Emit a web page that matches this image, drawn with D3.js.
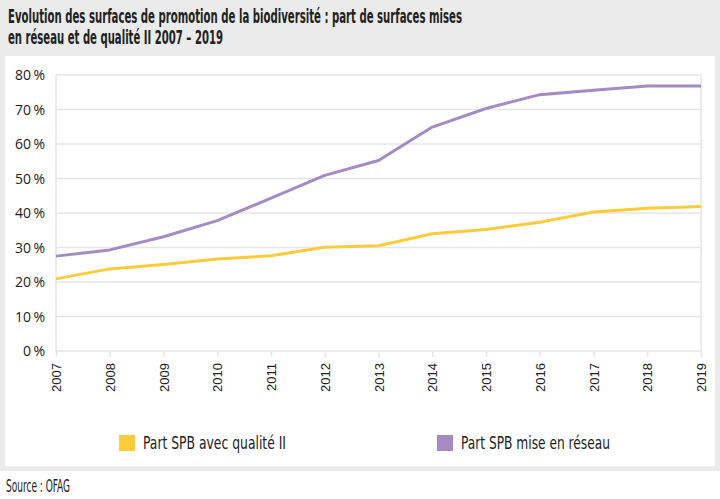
<!DOCTYPE html>
<html lang="fr">
<head>
<meta charset="UTF-8">
<title>Evolution des surfaces de promotion de la biodiversité</title>
<script src="https://d3js.org/d3.v7.min.js"></script>
<style>
  body { margin: 0; background: #fff; }
  svg { display: block; }
</style>
</head>
<body>
<svg width="720" height="499"></svg>
<script>
// data
const years = [2007, 2008, 2009, 2010, 2011, 2012, 2013, 2014, 2015, 2016, 2017, 2018, 2019];
const qualiteII = [20.9, 23.8, 25.1, 26.7, 27.6, 30.1, 30.5, 34.0, 35.2, 37.3, 40.3, 41.4, 41.9];
const miseEnReseau = [27.5, 29.3, 33.1, 37.8, 44.3, 50.9, 55.2, 64.9, 70.3, 74.3, 75.6, 76.8, 76.8];
const yTicks = [0, 10, 20, 30, 40, 50, 60, 70, 80];
const seriesNames = ["Part SPB avec qualité II", "Part SPB mise en réseau"];
const colors = ["#fecb3c", "#a58bc3"];
const titleLines = [
  "Evolution des surfaces de promotion de la biodiversité : part de surfaces mises",
  "en réseau et de qualité II 2007 – 2019"
];
const source = "Source : OFAG";

const svg = d3.select("svg");
const condensed = "'Liberation Sans Narrow', 'DejaVu Sans Condensed', sans-serif";

// grey frame + white panel
svg.append("rect").attr("x", 0).attr("y", 0).attr("width", 720).attr("height", 471).attr("fill", "#ebebeb");
svg.append("rect").attr("x", 5).attr("y", 56).attr("width", 710).attr("height", 410).attr("fill", "#fff");

// title
svg.selectAll(".title")
  .data(titleLines)
  .enter().append("text")
  .attr("class", "title")
  .attr("x", 8)
  .attr("y", (d, i) => 23 + i * 21)
  .attr("textLength", (d, i) => i === 0 ? 454 : 215)
  .attr("lengthAdjust", "spacingAndGlyphs")
  .style("font-family", condensed)
  .style("font-weight", "bold")
  .style("font-size", "19px")
  .attr("fill", "#222")
  .text(d => d);

const x = d3.scaleLinear().domain([2007, 2019]).range([56, 701]);
const y = d3.scaleLinear().domain([0, 80]).range([351, 75]);

// gridlines
svg.append("g")
  .selectAll("line")
  .data(yTicks)
  .enter().append("line")
  .attr("x1", x(2007)).attr("x2", x(2019))
  .attr("y1", d => y(d)).attr("y2", d => y(d))
  .attr("stroke", "#e6e6e6")
  .attr("stroke-width", 1.5);

// left/right borders of plot
svg.append("g")
  .selectAll("line")
  .data([2007, 2019])
  .enter().append("line")
  .attr("x1", d => x(d)).attr("x2", d => x(d))
  .attr("y1", y(80)).attr("y2", y(0))
  .attr("stroke", "#e6e6e6")
  .attr("stroke-width", 1.5);

// y axis labels
svg.append("g")
  .selectAll("text")
  .data(yTicks)
  .enter().append("text")
  .attr("x", 45)
  .attr("y", d => y(d) + 5)
  .attr("text-anchor", "end")
  .style("font-family", "'Open Sans', sans-serif")
  .style("font-size", "14px")
  .attr("fill", "#222")
  .text(d => d + "\u2009%");

// x axis
const xAxis = d3.axisBottom(x)
  .tickValues(years)
  .tickFormat(d3.format("d"))
  .tickSize(6)
  .tickPadding(6);

const gx = svg.append("g")
  .attr("transform", `translate(0,${y(0)})`)
  .call(xAxis);
gx.select(".domain").remove();
gx.selectAll(".tick line").attr("stroke", "#e6e6e6").attr("stroke-width", 1.5);
gx.selectAll(".tick text")
  .attr("transform", "rotate(-90)")
  .attr("x", -12)
  .attr("y", 0)
  .attr("dy", "0.35em")
  .style("text-anchor", "end")
  .style("font-family", "'Liberation Sans', Arial, sans-serif")
  .style("font-size", "13px")
  .attr("fill", "#222");

// lines
const line = d3.line()
  .x((d, i) => x(years[i]))
  .y(d => y(d));

svg.selectAll(".series")
  .data([qualiteII, miseEnReseau])
  .enter().append("path")
  .attr("class", "series")
  .attr("d", line)
  .attr("fill", "none")
  .attr("stroke", (d, i) => colors[i])
  .attr("stroke-width", 3)
  .attr("stroke-linejoin", "round");

// legend
const legend = svg.append("g")
  .selectAll("g")
  .data(seriesNames)
  .enter().append("g")
  .attr("transform", (d, i) => `translate(${i === 0 ? 119 : 437},435)`);

legend.append("rect")
  .attr("width", 16).attr("height", 16)
  .attr("fill", (d, i) => colors[i]);

legend.append("text")
  .attr("x", 24)
  .attr("y", 14)
  .attr("textLength", (d, i) => i === 0 ? 143 : 149)
  .attr("lengthAdjust", "spacingAndGlyphs")
  .style("font-family", condensed)
  .style("font-size", "17px")
  .attr("fill", "#222")
  .text(d => d);

// source
svg.append("text")
  .attr("x", 6)
  .attr("y", 492)
  .attr("textLength", 64)
  .attr("lengthAdjust", "spacingAndGlyphs")
  .style("font-family", condensed)
  .style("font-size", "17px")
  .attr("fill", "#222")
  .text(source);
</script>
</body>
</html>
